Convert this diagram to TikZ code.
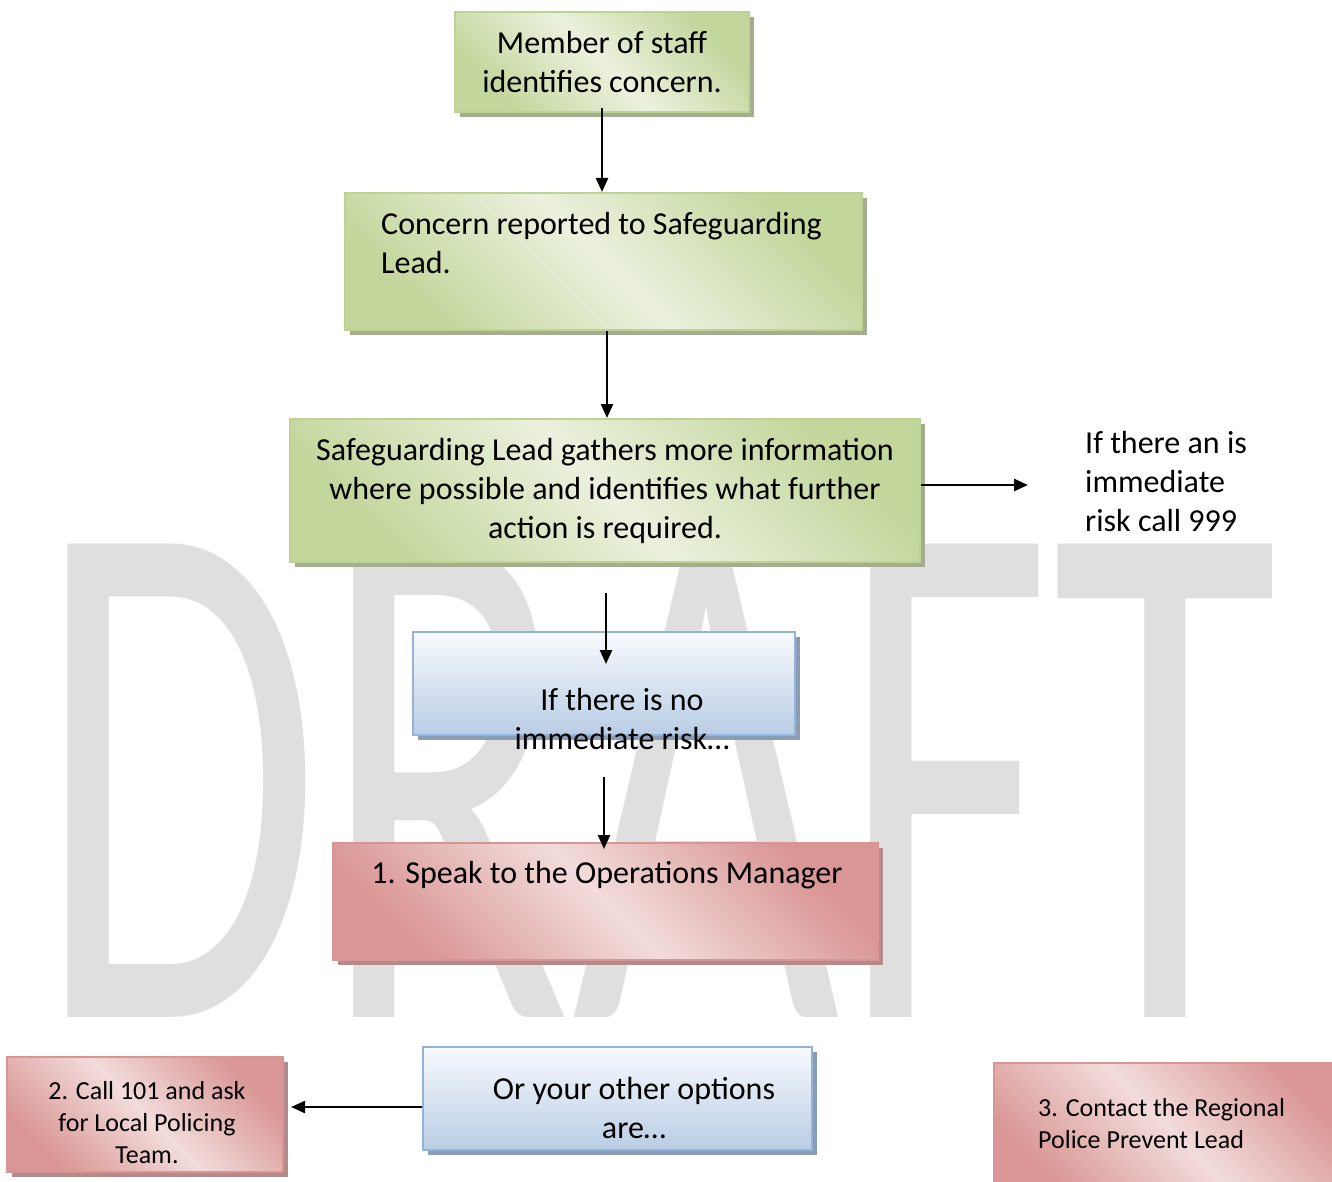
\documentclass[tikz,border=0pt]{standalone}
\usepackage{fontspec}
\setmainfont{Carlito}
\usetikzlibrary{arrows.meta}
\usetikzlibrary{shadows}

\definecolor{grDark}{HTML}{C3D69B}
\definecolor{grLight}{HTML}{EBF1DE}
\definecolor{grLine}{HTML}{BED393}
\definecolor{grShade}{HTML}{A5AD90}
\definecolor{blTop}{HTML}{F8FAFD}
\definecolor{blBot}{HTML}{B9CDE5}
\definecolor{blLine}{HTML}{95B3D7}
\definecolor{blShade}{HTML}{8B9DB6}
\definecolor{rdDark}{HTML}{D99694}
\definecolor{rdLight}{HTML}{F2DCDB}
\definecolor{rdLine}{HTML}{D99594}
\definecolor{rdShade}{HTML}{B48B8A}
\definecolor{wmark}{HTML}{DFDFDF}

\begin{document}
\begin{tikzpicture}[
    x=0.5pt, y=-0.5pt,
    >={Triangle[length=7pt,width=6pt]},
    line width=1.2pt,
    big/.style={font=\fontsize{16}{19.5}\selectfont},
    small/.style={font=\fontsize{13}{16}\selectfont},
    box/.style={rectangle, line width=1pt, inner sep=0pt},
    greenbox/.style={box, draw=grLine,
        top color=grDark, bottom color=grDark, middle color=grLight, shading angle=-45,
        drop shadow={shadow xshift=2.5pt, shadow yshift=-2.5pt, fill=grShade, opacity=1}},
    bluebox/.style={box, draw=blLine,
        top color=blTop, bottom color=blBot,
        drop shadow={shadow xshift=2.5pt, shadow yshift=-2.5pt, fill=blShade, opacity=1}},
    redbox/.style={box, draw=rdLine,
        top color=rdDark, bottom color=rdDark, middle color=rdLight, shading angle=-45,
        drop shadow={shadow xshift=2.5pt, shadow yshift=-2.5pt, fill=rdShade, opacity=1}}
]

\clip (0,0) rectangle (1332,1182);

% Watermark
\node[anchor=base west, inner sep=0pt, text=wmark,
      font=\fontsize{369}{369}\selectfont] (draft) at (35,1017)
      {\scalebox{0.627}[1]{DRAFT}};

% Main column
\node[greenbox, minimum width=147pt, minimum height=50pt, big, align=center]
      (staff) at (602,62) {Member of staff\\identifies concern.};

\node[greenbox, minimum width=258.5pt, minimum height=68.5pt]
      (rep) at (603.5,261.5) {};
\node[big, align=left, anchor=north west, inner sep=0pt]
      (reptxt) at (380,211) {Concern reported to Safeguarding\\Lead.};

\node[greenbox, minimum width=315pt, minimum height=71.5pt, big, align=center]
      (gath) at (605,490.5)
      {Safeguarding Lead gathers more information\\where possible and identifies what further\\action is required.};

\node[big, align=left, anchor=west, inner sep=0pt]
      (risk) at (1084,482) {If there an is\\immediate\\risk call 999};
\coordinate (riskend) at (1028,485);

\node[bluebox, minimum width=191pt, minimum height=51.5pt]
      (norisk) at (604,683.5) {};
\node[big, align=center, inner sep=0pt]
      (norisktxt) at (622,719) {If there is no\\immediate risk…};

\node[redbox, minimum width=272.5pt, minimum height=58.5pt]
      (speak) at (605.5,901.5) {};
\node[big, inner sep=0pt] (speaktxt) at (607,875) {1. Speak to the Operations Manager};

% Other options
\node[bluebox, minimum width=194.5pt, minimum height=51.5pt]
      (other) at (617.5,1098.5) {};
\node[big, align=center, inner sep=0pt]
      (othertxt) at (634,1108) {Or your other options\\are…};

\node[redbox, minimum width=138pt, minimum height=57.5pt]
      (police) at (145,1114.5) {};
\node[small, align=center, inner sep=0pt]
      (policetxt) at (147,1123) {2. Call 101 and ask\\for Local Policing\\Team.};

\node[redbox, minimum width=175.5pt, minimum height=66pt]
      (prevent) at (1169.5,1129) {};
\node[small, align=left, anchor=west, inner sep=0pt]
      (preventtxt) at (1037,1124) {3. Contact the Regional\\Police Prevent Lead};

% Arrows
\draw[->] ([yshift=2.5pt]staff.south) -- (staff.south |- rep.north);
\draw[->] ([xshift=1.75pt]rep.south) -- ([xshift=1.75pt]rep.south |- gath.north);
\draw[->] (gath.east |- riskend) -- (riskend);
\draw[->] ([xshift=0.5pt,yshift=-15pt]gath.south) -- ([xshift=1pt,yshift=-16.5pt]norisk.north);
\draw[->] ([yshift=-20.5pt]norisk.south) -- ([yshift=-3.5pt]norisk.south |- speak.north);
\draw[->] ([yshift=-4.25pt]other.west) -- ([xshift=3.5pt,yshift=3.75pt]police.east);

\end{tikzpicture}
\end{document}
